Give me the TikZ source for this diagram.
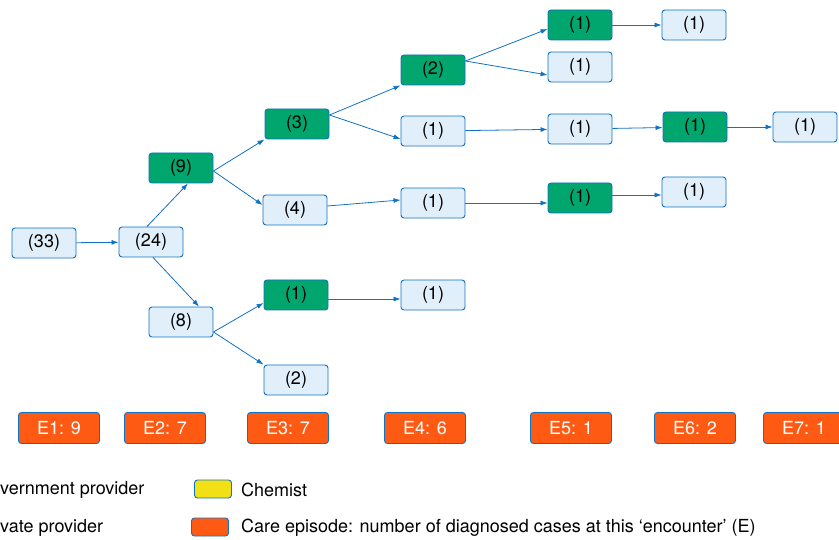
\documentclass[tikz,border=0pt]{standalone}
\usepackage{fontspec}
\setmainfont{TeX Gyre Heros}
\usetikzlibrary{shapes}
\usetikzlibrary{arrows.meta}

\definecolor{edgeblue}{RGB}{16,114,196}
\definecolor{provfill}{RGB}{224,239,250}
\definecolor{govgreen}{RGB}{0,166,110}
\definecolor{chemyellow}{RGB}{240,224,20}
\definecolor{episode}{RGB}{255,90,20}

\begin{document}
\begin{tikzpicture}[x=1pt,y=-1pt]
	\tikzstyle{every node}=[font=\fontsize{18}{21}\selectfont]
	\tikzstyle{box}=[rectangle,rounded corners=3pt,draw=edgeblue,line width=0.9pt,minimum width=64pt,minimum height=30pt,inner sep=0pt]
	\tikzstyle{priv}=[box,fill=provfill]
	\tikzstyle{gov}=[box,fill=govgreen]
	\tikzstyle{epi}=[box,fill=episode,text=white,minimum width=81pt,minimum height=31pt]
	\tikzstyle{link}=[draw=edgeblue,line width=0.8pt,-{Latex[length=7pt,width=5pt]}]
	\tikzstyle{key}=[rectangle,rounded corners=3pt,draw=edgeblue,line width=0.9pt,minimum width=37pt,minimum height=18pt,inner sep=0pt]

	\useasboundingbox (0,0) rectangle (839,540);

	% encounter 1 and 2
	\node[priv] (n33) at (44,243) {(33)};
	\node[priv] (n24) at (151,242) {(24)};
	% encounter 3
	\node[gov] (n9) at (181,168) {(9)};
	\node[priv] (n8) at (181,322) {(8)};
	% encounter 4
	\node[gov] (n3) at (297,124) {(3)};
	\node[priv] (n4) at (295,210) {(4)};
	\node[gov] (n1a) at (296,295) {(1)};
	\node[priv] (n2a) at (296,380) {(2)};
	% encounter 5
	\node[gov] (n2b) at (433,70) {(2)};
	\node[priv] (n1b) at (433,131) {(1)};
	\node[priv] (n1c) at (433,203) {(1)};
	\node[priv] (n1d) at (433,295) {(1)};
	% encounter 6
	\node[gov] (n1e) at (580,25) {(1)};
	\node[priv] (n1f) at (580,67) {(1)};
	\node[priv] (n1g) at (580,129) {(1)};
	\node[gov] (n1h) at (580,198) {(1)};
	% encounter 7 and beyond
	\node[priv] (n1i) at (694,25) {(1)};
	\node[gov] (n1j) at (695,127) {(1)};
	\node[priv] (n1k) at (805,127) {(1)};
	\node[priv] (n1l) at (694,192) {(1)};

	\draw[link] (n33) -- (n24);
	\draw[link] ([xshift=-4pt]n24.north) -- ([xshift=7pt]n9.south);
	\draw[link] ([xshift=2pt]n24.south) -- ([xshift=18pt]n8.north);
	\draw[link] ([yshift=-3pt]n9.east) -- (n3.south west);
	\draw[link] ([yshift=-3pt]n9.east) -- ([yshift=5pt]n4.west);
	\draw[link] ([yshift=9pt]n3.east) -- (n2b.south west);
	\draw[link] ([yshift=9pt]n3.east) -- ([yshift=-8pt]n1b.west);
	\draw[link] ([yshift=4pt]n4.east) -- ([yshift=3pt]n1c.west);
	\draw[link] ([yshift=-10pt]n8.east) -- ([yshift=-8pt]n1a.west);
	\draw[link] ([yshift=-10pt]n8.east) -- (n2a.north west);
	\draw[link] ([yshift=9pt]n2b.east) -- ([yshift=-4pt]n1e.west);
	\draw[link] ([yshift=9pt]n2b.east) -- ([yshift=-8pt]n1f.west);
	\draw[link] (n1b) -- (n1g);
	\draw[link] (n1c.east) -- (n1h.west |- n1c.east);
	\draw[link] ([yshift=-4pt]n1a.east) -- ([yshift=-4pt]n1d.west);
	\draw[link] (n1e) -- (n1i);
	\draw[link] (n1g) -- (n1j);
	\draw[link] (n1j) -- (n1k);
	\draw[link] ([yshift=3pt]n1h.east) -- ([yshift=-3pt]n1l.west);

	% care episodes
	\node[epi] (e1) at (59,428) {E1: 9};
	\node[epi] (e2) at (165,428) {E2: 7};
	\node[epi] (e3) at (288,428) {E3: 7};
	\node[epi] (e4) at (425,428) {E4: 6};
	\node[epi] (e5) at (571,428) {E5: 1};
	\node[epi] (e6) at (695,428) {E6: 2};
	\node[epi] (e7) at (804,428) {E7: 1};

	% legend
	\node[anchor=west,inner sep=0pt] (lgov) at (0,490) {vernment provider};
	\node[anchor=west,inner sep=0pt] (lpriv) at (0,528) {vate provider};
	\node[key,fill=chemyellow] (kchem) at (213,489) {};
	\node[anchor=west,inner sep=0pt] (lchem) at (241,490) {Chemist};
	\node[key,fill=episode] (kepi) at (210,527) {};
	\node[anchor=west,inner sep=0pt] (lepi) at (241,528) {Care episode: number of diagnosed cases at this ‘encounter’ (E)};
\end{tikzpicture}
\end{document}
